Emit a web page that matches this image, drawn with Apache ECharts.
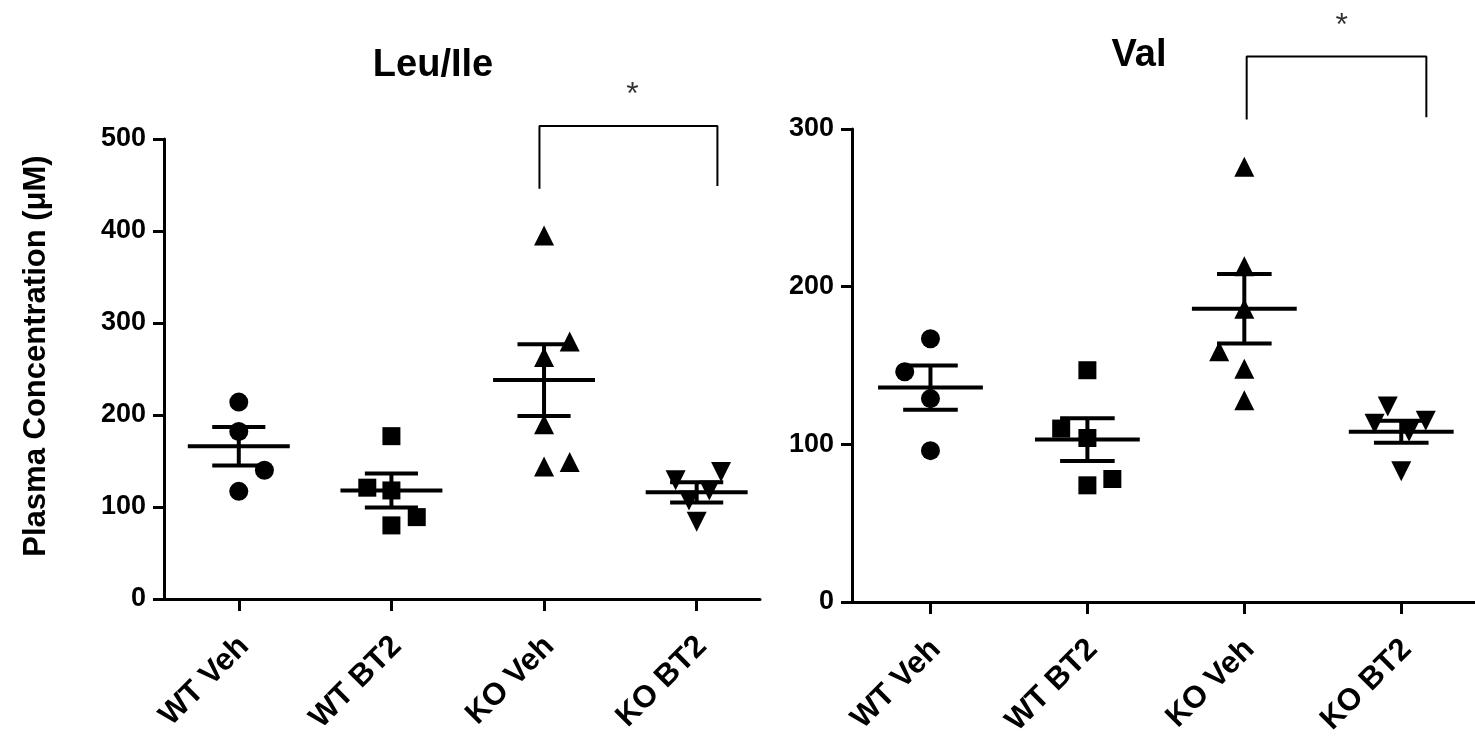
<!DOCTYPE html>
<html>
<head>
<meta charset="utf-8">
<script src="https://cdn.jsdelivr.net/npm/echarts@6/dist/echarts.min.js"></script>
<style>
  html, body { margin: 0; padding: 0; background: #ffffff; overflow: hidden; }
  #chart { width: 1475px; height: 745px; }
</style>
</head>
<body>
<div id="chart"></div>
<script>
// ---- groups ----
const groups = ['WT Veh', 'WT BT2', 'KO Veh', 'KO BT2'];

// ---- Leu/Ile plasma concentration per animal (µM) ----
const leuWtVeh = [214, 182, 140, 117];
const leuWtBt2 = [177, 121, 118, 89, 80];
const leuKoVeh = [395, 280, 263, 190, 144, 149];
const leuKoBt2 = [138, 129, 118, 107, 84];
const leuMean = [166, 118, 238, 116];
const leuSem = [21, 18.5, 39, 11];
const leuTicks = [0, 100, 200, 300, 400, 500];

// ---- Val plasma concentration per animal (µM) ----
const valWtVeh = [167, 146, 129, 96];
const valWtBt2 = [147, 110, 104, 78, 74];
const valKoVeh = [276, 213, 186, 159, 148, 128];
const valKoBt2 = [124, 115, 113, 108, 83];
const valMean = [136, 103, 186, 108];
const valSem = [14, 13.5, 22, 7];
const valTicks = [0, 100, 200, 300];

// sideways spread of overlapping dots, in fractions of a category slot
const leuSpread = [
  [0, 0, 0.168, 0],
  [0, -0.158, 0, 0.166, 0],
  [0, 0.168, 0, 0, 0, 0.168],
  [0.16, -0.138, 0.083, -0.05, 0]
];
const valSpread = [
  [0, -0.164, 0, 0],
  [0, -0.167, 0, 0.159, 0],
  [0, 0, 0, -0.16, 0, 0],
  [-0.086, 0.156, -0.17, 0.05, 0]
];

const FONT = '"Liberation Sans", Arial, Helvetica, sans-serif';
const MEAN_HALF = 0.334;   // half length of the mean bar (category units)
const CAP_HALF = 0.174;    // half length of the SEM caps
const symbols = [
  { symbol: 'circle', rotate: 0, size: 19 },
  { symbol: 'rect', rotate: 0, size: 18 },
  { symbol: 'triangle', rotate: 0, size: 20 },
  { symbol: 'triangle', rotate: 180, size: 20 }
];

function dotSeries(gridIdx, perGroup, spread) {
  return perGroup.map((vals, g) => ({
    type: 'scatter',
    xAxisIndex: gridIdx,
    yAxisIndex: gridIdx,
    symbol: symbols[g].symbol,
    symbolRotate: symbols[g].rotate,
    symbolSize: symbols[g].size,
    itemStyle: { color: '#000000', opacity: 1 },
    silent: true,
    z: 2,
    data: vals.map((v, i) => [g + spread[g][i], v])
  }));
}

function errorBarSeries(gridIdx, means, sems) {
  return {
    type: 'custom',
    xAxisIndex: gridIdx,
    yAxisIndex: gridIdx,
    z: 3,
    silent: true,
    data: means.map((m, g) => [g, m, sems[g]]),
    renderItem: function (params, api) {
      const x = api.value(0), m = api.value(1), s = api.value(2);
      const st = { stroke: '#000000', lineWidth: 4 };
      const seg = (a, b) => ({
        type: 'line',
        shape: { x1: a[0], y1: a[1], x2: b[0], y2: b[1] },
        style: st
      });
      return {
        type: 'group',
        children: [
          seg(api.coord([x - MEAN_HALF, m]), api.coord([x + MEAN_HALF, m])),
          seg(api.coord([x, m - s]), api.coord([x, m + s])),
          seg(api.coord([x - CAP_HALF, m + s]), api.coord([x + CAP_HALF, m + s])),
          seg(api.coord([x - CAP_HALF, m - s]), api.coord([x + CAP_HALF, m - s]))
        ]
      };
    }
  };
}

// significance bracket between two groups, with its star
function bracketSeries(gridIdx, x1, x2, yLeft, yTop, yRight, starX, starY) {
  return [{
    type: 'line',
    xAxisIndex: gridIdx,
    yAxisIndex: gridIdx,
    clip: false,
    symbol: 'none',
    silent: true,
    lineStyle: { color: '#000000', width: 2 },
    data: [[x1, yLeft], [x1, yTop], [x2, yTop], [x2, yRight]]
  }, {
    type: 'scatter',
    xAxisIndex: gridIdx,
    yAxisIndex: gridIdx,
    clip: false,
    silent: true,
    symbolSize: 1,
    itemStyle: { color: 'rgba(0,0,0,0)' },
    label: {
      show: true, position: 'inside', formatter: '*',
      color: '#000000', fontSize: 32, fontFamily: FONT
    },
    data: [[starX, starY]]
  }];
}

function xAxisFor(gridIdx, min, max) {
  return {
    type: 'value',
    gridIndex: gridIdx,
    min: min,
    max: max,
    splitLine: { show: false },
    axisLine: { show: true, lineStyle: { color: '#000000', width: 3 } },
    axisTick: {
      show: true, inside: false, length: 12, customValues: [0, 1, 2, 3],
      lineStyle: { color: '#000000', width: 3 }
    },
    axisLabel: {
      show: true, customValues: [0, 1, 2, 3], rotate: 45, margin: 26,
      verticalAlign: 'top', padding: [0, 8, 0, 0],
      formatter: v => groups[Math.round(v)],
      color: '#000000', fontSize: 31, fontWeight: 'bold', fontFamily: FONT
    }
  };
}

function yAxisFor(gridIdx, ticks) {
  return {
    type: 'value',
    gridIndex: gridIdx,
    min: ticks[0],
    max: ticks[ticks.length - 1],
    interval: ticks[1] - ticks[0],
    splitLine: { show: false },
    axisLine: { show: true, onZero: false, lineStyle: { color: '#000000', width: 3 } },
    axisTick: { show: true, inside: false, length: 11, lineStyle: { color: '#000000', width: 3 } },
    axisLabel: {
      margin: 18, color: '#000000', fontSize: 27, fontWeight: 'bold', fontFamily: FONT
    }
  };
}

const chart = echarts.init(document.getElementById('chart'), null, { renderer: 'canvas' });

chart.setOption({
  animation: false,
  backgroundColor: '#ffffff',
  grid: [
    { left: 164, top: 139, width: 596, height: 460 },
    { left: 852, top: 129, width: 623, height: 473 }
  ],
  xAxis: [xAxisFor(0, -0.49, 3.415), xAxisFor(1, -0.5, 3.47)],
  yAxis: [yAxisFor(0, leuTicks), yAxisFor(1, valTicks)],
  graphic: [
    {
      type: 'text', x: 433, y: 66, silent: true,
      style: {
        text: 'Leu/Ile', fill: '#000000', align: 'center', verticalAlign: 'middle',
        fontSize: 38, fontWeight: 'bold', fontFamily: FONT
      }
    },
    {
      type: 'text', x: 1139, y: 56, silent: true,
      style: {
        text: 'Val', fill: '#000000', align: 'center', verticalAlign: 'middle',
        fontSize: 38, fontWeight: 'bold', fontFamily: FONT
      }
    },
    {
      type: 'text', x: 36, y: 356, rotation: Math.PI / 2, silent: true,
      style: {
        text: 'Plasma Concentration (\u03BCM)', fill: '#000000',
        align: 'center', verticalAlign: 'middle',
        fontSize: 31, fontWeight: 'bold', fontFamily: FONT
      }
    }
  ],
  series: [].concat(
    dotSeries(0, [leuWtVeh, leuWtBt2, leuKoVeh, leuKoBt2], leuSpread),
    [errorBarSeries(0, leuMean, leuSem)],
    bracketSeries(0, 1.97, 3.136, 446, 514, 449, 2.58, 548),
    dotSeries(1, [valWtVeh, valWtBt2, valKoVeh, valKoBt2], valSpread),
    [errorBarSeries(1, valMean, valSem)],
    bracketSeries(1, 2.015, 3.16, 306, 346, 307.5, 2.62, 365)
  )
});
</script>
</body>
</html>
